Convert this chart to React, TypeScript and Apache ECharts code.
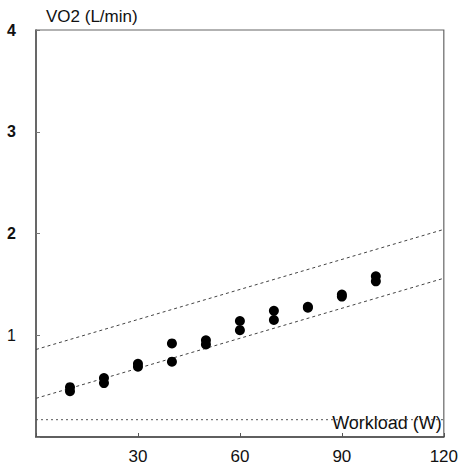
import React, { useEffect, useRef } from "react";
import * as echarts from "echarts";

const workload = [10, 10, 20, 20, 30, 30, 40, 40, 50, 50, 60, 60, 70, 70, 80, 80, 90, 90, 100, 100];
const vo2 = [0.49, 0.45, 0.58, 0.53, 0.72, 0.69, 0.92, 0.74, 0.95, 0.91, 1.14, 1.05, 1.24, 1.15, 1.28, 1.27, 1.4, 1.38, 1.58, 1.53];

const upperLineX = [0, 120];
const upperLineY = [0.86, 2.04];
const lowerLineX = [0, 120];
const lowerLineY = [0.38, 1.56];
const baseLineX = [0, 120];
const baseLineY = [0.17, 0.17];

const xTicks = ["30", "60", "90", "120"];
const yTicks = ["1", "2", "3", "4"];

const pair = (xs: number[], ys: number[]) => xs.map((x, i) => [x, ys[i]]);

export default function App() {
  const ref = useRef<HTMLDivElement>(null);
  useEffect(() => {
    if (!ref.current) return;
    const chart = echarts.init(ref.current, null, { renderer: "svg" });
    const dashed = {
      type: "line",
      symbol: "none",
      silent: true,
      lineStyle: { color: "#444", width: 1, type: [3, 3] },
    };
    chart.setOption({
      animation: false,
      backgroundColor: "#fff",
      textStyle: { fontFamily: "Liberation Sans, Arial, sans-serif" },
      grid: {
        left: 36,
        right: 16,
        top: 30,
        bottom: 36,
        show: true,
        borderColor: "#666",
        borderWidth: 1.2,
      },
      xAxis: {
        type: "value",
        min: 0,
        max: 120,
        interval: 30,
        name: "Workload (W)",
        nameLocation: "end",
        nameGap: -2,
        nameTextStyle: {
          fontSize: 18,
          color: "#111",
          align: "right",
          verticalAlign: "bottom",
          padding: [0, 0, 5, 0],
        },
        axisLine: { show: true, lineStyle: { color: "#444", width: 1.5 } },
        axisTick: { show: true, inside: true, length: 4, lineStyle: { color: "#555" } },
        axisLabel: {
          fontSize: 17,
          color: "#111",
          margin: 11,
          formatter: (v: number) => (xTicks.includes(String(v)) ? String(v) : ""),
        },
        splitLine: { show: false },
      },
      yAxis: {
        type: "value",
        min: 0,
        max: 4,
        interval: 1,
        name: "VO2 (L/min)",
        nameLocation: "end",
        nameGap: 5,
        nameTextStyle: {
          fontSize: 17,
          color: "#111",
          align: "left",
          verticalAlign: "bottom",
          padding: [0, 0, 0, 10],
        },
        axisLine: { show: true, lineStyle: { color: "#555", width: 1.5 } },
        axisTick: { show: true, inside: true, length: 4, lineStyle: { color: "#777" } },
        axisLabel: {
          fontSize: 16,
          color: "#111",
          margin: 20,
          formatter: (v: number) => {
            const s = String(v);
            if (!yTicks.includes(s)) return "";
            return s === "1" ? s : "{b|" + s + "}";
          },
          rich: { b: { fontSize: 16, fontWeight: "bold", color: "#111" } },
        },
        splitLine: { show: false },
      },
      series: [
        { ...dashed, data: pair(upperLineX, upperLineY) },
        { ...dashed, data: pair(lowerLineX, lowerLineY) },
        { ...dashed, lineStyle: { color: "#555", width: 1, type: [2, 3] }, data: pair(baseLineX, baseLineY) },
        {
          type: "scatter",
          symbol: "circle",
          symbolSize: 10,
          itemStyle: { color: "#000", opacity: 1 },
          data: pair(workload, vo2),
          z: 5,
        },
      ],
    });
    return () => chart.dispose();
  }, []);
  return (
    <div
      ref={ref}
      style={{ position: "absolute", left: 0, top: 0, width: 461, height: 473 }}
    />
  );
}
